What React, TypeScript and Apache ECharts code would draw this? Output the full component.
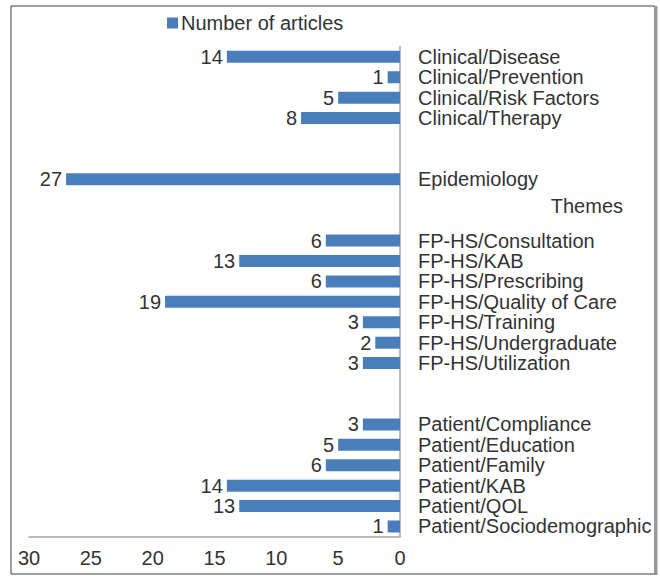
import React, { useEffect, useRef } from "react";
import * as echarts from "echarts";

const categories: string[] = [
  "Clinical/Disease",
  "Clinical/Prevention",
  "Clinical/Risk Factors",
  "Clinical/Therapy",
  " ",
  "  ",
  "Epidemiology",
  "   ",
  "    ",
  "FP-HS/Consultation",
  "FP-HS/KAB",
  "FP-HS/Prescribing",
  "FP-HS/Quality of Care",
  "FP-HS/Training",
  "FP-HS/Undergraduate",
  "FP-HS/Utilization",
  "     ",
  "      ",
  "Patient/Compliance",
  "Patient/Education",
  "Patient/Family",
  "Patient/KAB",
  "Patient/QOL",
  "Patient/Sociodemographic",
];

const articleCounts: (number | null)[] = [
  14, 1, 5, 8, null, null, 27, null, null, 6, 13, 6, 19, 3, 2, 3, null, null, 3, 5, 6, 14, 13, 1,
];

const seriesName = "Number of articles";
const axisTitle = "Themes";

const FONT = "'Liberation Sans', Arial, Helvetica, sans-serif";
const FS = 20;

export default function App() {
  const ref = useRef<HTMLDivElement>(null);
  useEffect(() => {
    document.body.style.margin = "0";
    if (!ref.current) return;
    const chart = echarts.init(ref.current, undefined, { renderer: "svg" });
    chart.setOption({
      animation: false,
      backgroundColor: "#ffffff",
      textStyle: { fontFamily: FONT },
      legend: {
        left: 162,
        top: 8,
        icon: "rect",
        itemWidth: 11,
        itemHeight: 11,
        textStyle: { fontSize: FS, color: "#333333", fontFamily: FONT, padding: [0, 0, 0, -2] },
        data: [seriesName],
      },
      grid: { left: 29, right: 260, top: 46.6, bottom: 39.3, containLabel: false },
      xAxis: {
        type: "value",
        inverse: true,
        min: 0,
        max: 30,
        interval: 5,
        splitLine: { show: false },
        axisTick: { show: false },
        axisLine: { show: true, lineStyle: { color: "#a6a6a6", width: 1.5 } },
        axisLabel: { fontSize: FS, color: "#333333", fontFamily: FONT, margin: 11 },
      },
      yAxis: {
        type: "category",
        inverse: true,
        position: "right",
        data: categories,
        axisTick: { show: false },
        axisLine: { show: true, lineStyle: { color: "#a6a6a6", width: 1.5 } },
        axisLabel: { fontSize: FS, color: "#333333", fontFamily: FONT, margin: 18, interval: 0 },
      },
      series: [
        {
          name: seriesName,
          type: "bar",
          data: articleCounts,
          barWidth: 12,
          itemStyle: { color: "#4a7ebb" },
          label: {
            show: true,
            position: "left",
            distance: 4,
            fontSize: FS,
            color: "#333333",
            fontFamily: FONT,
          },
        },
      ],
      graphic: [
        {
          type: "text",
          right: 660 - 623,
          top: 196,
          style: { text: axisTitle, fontSize: FS, fill: "#333333", fontFamily: FONT },
        },
        {
          type: "rect",
          shape: { x: 11, y: 6, width: 644, height: 568 },
          style: { fill: "none", stroke: "#3c3c3c", lineWidth: 1 },
          silent: true,
        },
        {
          type: "line",
          shape: { x1: 656, y1: 6, x2: 656, y2: 575 },
          style: { stroke: "#9a9a9a", lineWidth: 3 },
          silent: true,
        },
      ],
    });
    return () => chart.dispose();
  }, []);
  return <div ref={ref} style={{ width: 660, height: 576 }} />;
}
